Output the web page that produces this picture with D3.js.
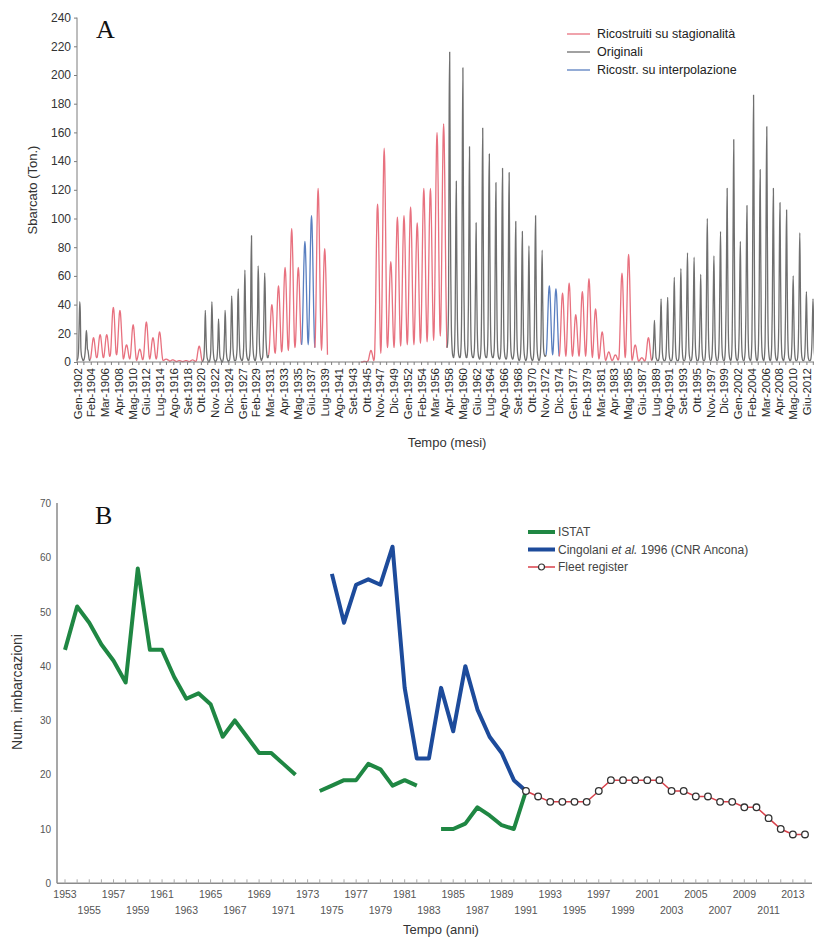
<!DOCTYPE html>
<html>
<head>
<meta charset="utf-8">
<script src="https://cdn.jsdelivr.net/npm/d3@7"></script>
<style>
  html, body { margin: 0; padding: 0; background: #fff; }
  svg { display: block; font-family: "Liberation Sans", Arial, sans-serif; }
</style>
</head>
<body>
<svg id="chart" width="814" height="939"></svg>
<script>
// ---------- Panel A: monthly landings (tonnes), 1902-2013 ----------
const monthNames = ["Gen", "Feb", "Mar", "Apr", "Mag", "Giu", "Lug", "Ago", "Set", "Ott", "Nov", "Dic"];
const firstYearA = 1902;
const lastYearA = 2013;
const landingTicks = [0, 20, 40, 60, 80, 100, 120, 140, 160, 180, 200, 220, 240];

// Original records
const originali1902 = [
  1, 2, 4, 10, 28, 42, 35, 10, 5, 3, 2, 1,
  1, 2, 4, 8, 16, 22, 18, 9, 8, 5, 2, 1
];
// Reconstructed from seasonality
const stagionalita1904 = [
  2, 3, 6, 9.5, 13, 16, 17, 16, 13, 9.5, 6, 3,
  3, 4, 7, 11, 15, 18, 19, 18, 15, 11, 7, 4,
  3, 4, 7, 11, 15, 18, 19, 18, 15, 11, 7, 4,
  4, 6, 12, 21, 30, 36, 38, 36, 30, 21, 12, 6,
  5, 7, 13, 20.5, 28, 34, 36, 34, 28, 20.5, 13, 7,
  2, 2.7, 4.5, 7, 9.5, 11.3, 12, 11.3, 9.5, 7, 4.5, 2.7,
  2, 3.7, 8, 14, 20, 24.3, 26, 24.3, 20, 14, 8, 3.7,
  1, 1.6, 3, 5, 7, 8.4, 9, 8.4, 7, 5, 3, 1.6,
  2, 3.8, 8.5, 15, 21.5, 26.2, 28, 26.2, 21.5, 15, 8.5, 3.8,
  2, 3, 5.8, 9.5, 13.3, 16, 17, 16, 13.3, 9.5, 5.8, 3,
  2, 3.3, 6.8, 11.5, 16.3, 19.7, 21, 19.7, 16.3, 11.5, 6.8, 3.3,
  1, 1.1, 1.3, 1.5, 1.8, 1.9, 2, 1.9, 1.8, 1.5, 1.3, 1.1,
  0.5, 0.6, 0.8, 1, 1.3, 1.4, 1.5, 1.4, 1.3, 1, 0.8, 0.6,
  0.3, 0.35, 0.5, 0.65, 0.8, 0.95, 1, 0.95, 0.8, 0.65, 0.5, 0.35,
  0.3, 0.35, 0.5, 0.6, 0.8, 0.9, 1, 0.9, 0.8, 0.6, 0.5, 0.35,
  0.3, 0.4, 0.6, 0.9, 1.2, 1.4, 1.5, 1.4, 1.2, 0.9, 0.6, 0.4,
  0.5, 1.2, 3.1, 5.8, 8.4, 10.3, 11, 10.3, 8.4, 5.8, 3.1, 1.2
];
const originali1921 = [
  0, 1, 2, 6, 18, 36, 24, 10, 4, 2, 1, 0,
  0, 1, 3, 8, 25, 42, 30, 12, 5, 2, 1, 0,
  0, 1, 2, 6, 15, 30, 22, 8, 3, 2, 1, 0,
  0, 1, 3, 8, 20, 36, 28, 10, 4, 2, 1, 0,
  1, 1, 4, 10, 30, 46, 35, 14, 6, 3, 1, 1,
  1, 2, 5, 12, 42, 51, 30, 14, 6, 3, 2, 1,
  1, 2, 5, 14, 44, 64, 40, 15, 6, 3, 2, 1,
  1, 3, 6, 16, 65, 88, 40, 18, 8, 4, 2, 1,
  1, 3, 6, 20, 35, 67, 55, 20, 8, 4, 2, 1,
  2, 3, 8, 22, 45, 62, 48, 20, 10, 5, 3, 3
];
const stagionalita1931 = [
  5, 7.5, 13.8, 22.5, 31.3, 37.6, 40, 37.6, 31.3, 22.5, 13.8, 7.5,
  6, 9.3, 17.8, 29.5, 41.3, 49.7, 53, 49.7, 41.3, 29.5, 17.8, 9.3,
  7, 11.1, 21.8, 36.5, 51.3, 61.9, 66, 61.9, 51.3, 36.5, 21.8, 11.1,
  8, 14, 29.3, 50.5, 71.8, 87, 93, 87, 71.8, 50.5, 29.3, 14,
  10, 13.9, 24, 38, 52, 62, 66, 62, 52, 38, 24, 13.9
];
// Reconstructed by interpolation
const interpolazione1936 = [
  12, 17, 30, 48, 66, 79, 84, 79, 66, 48, 30, 17,
  12, 18.3, 34.5, 57, 79.5, 95.7, 102, 95.7, 79.5, 57, 34.5, 18.3
];
const stagionalita1938 = [
  10, 17.8, 37.8, 65.5, 93.3, 113.2, 121, 113.2, 93.3, 65.5, 37.8, 17.8,
  8, 13, 25.8, 43.5, 61.3, 74, 79, 74, 61.3, 43.5, 25.8, 5
];
const stagionalita1945 = [
  0, 0, 0, 0, 0.2, 0.4, 0.5, 0.4, 0.3, 0.2, 0.2, 0.3,
  0.5, 1, 2.4, 4.3, 6.1, 7.5, 8, 7.5, 6.1, 4.3, 2.4, 1,
  2, 9, 27, 56, 84, 104, 110, 104, 86, 60, 33, 12,
  6, 16, 41.8, 77.5, 113.3, 139, 149, 139, 113.3, 77.5, 41.8, 16,
  10, 14.2, 25, 40, 55, 65.8, 70, 65.8, 55, 40, 25, 14.2,
  10, 16.4, 32.8, 55.5, 78.3, 94.6, 101, 94.6, 78.3, 55.5, 32.8, 16.4,
  11, 17.4, 33.8, 56.5, 79.3, 95.6, 102, 95.6, 79.3, 56.5, 33.8, 17.4,
  12, 18.7, 36, 60, 84, 101.3, 108, 101.3, 84, 60, 36, 18.7,
  12, 18, 33.3, 54.5, 75.8, 91, 97, 91, 75.8, 54.5, 33.3, 18,
  13, 20.6, 40, 67, 94, 113.4, 121, 113.4, 94, 67, 40, 20.6,
  14, 21.5, 40.8, 67.5, 94.3, 113.5, 121, 113.5, 94.3, 67.5, 40.8, 21.5,
  15, 25.2, 51.3, 87.5, 123.8, 149.9, 160, 149.9, 123.8, 87.5, 51.3, 25.2,
  18, 28.4, 55, 92, 129, 155.6, 166, 155.6, 129, 92, 55, 28.4
];
const originali1958 = [
  10, 12, 20, 45, 175, 216, 120, 60, 25, 12, 6, 4,
  3, 5, 12, 35, 90, 126, 70, 30, 12, 6, 4, 3,
  3, 6, 15, 50, 150, 205, 110, 45, 15, 8, 5, 3,
  3, 5, 12, 40, 100, 150, 85, 35, 12, 6, 4, 3,
  3, 5, 10, 28, 60, 97, 55, 25, 10, 5, 3, 2,
  2, 5, 12, 40, 120, 163, 90, 35, 12, 6, 4, 3,
  3, 5, 12, 38, 115, 145, 80, 32, 12, 6, 4, 3,
  3, 5, 10, 32, 90, 125, 70, 30, 10, 5, 3, 2,
  2, 4, 10, 35, 100, 135, 75, 30, 10, 5, 3, 2,
  2, 4, 10, 35, 95, 132, 70, 28, 10, 5, 3, 2,
  2, 4, 8, 25, 70, 98, 55, 22, 8, 4, 2, 1,
  1, 3, 8, 24, 65, 91, 50, 20, 8, 4, 2, 1,
  1, 3, 7, 20, 55, 81, 45, 18, 6, 3, 2, 1,
  1, 3, 8, 28, 75, 102, 60, 22, 8, 4, 2, 1,
  1, 3, 7, 20, 55, 78, 42, 16, 7, 5, 4, 4
];
const interpolazione1973 = [
  5, 8.4, 17, 29, 41, 49.6, 53, 49.6, 41, 29, 17, 8.4,
  5, 8.2, 16.5, 28, 39.5, 47.8, 51, 47.8, 39.5, 28, 16.5, 8.2
];
const stagionalita1975 = [
  4, 7.1, 15, 26, 37, 44.9, 48, 44.9, 37, 26, 15, 7.1,
  4, 7.6, 16.8, 29.5, 42.3, 51.4, 55, 51.4, 42.3, 29.5, 16.8, 7.6,
  4, 6, 11.3, 18.5, 25.8, 31, 33, 31, 25.8, 18.5, 11.3, 6,
  4, 7.2, 15.3, 26.5, 37.8, 45.9, 49, 45.9, 37.8, 26.5, 15.3, 7.2,
  4, 7.8, 17.5, 31, 44.5, 54.2, 58, 54.2, 44.5, 31, 17.5, 7.8,
  3, 5.4, 11.5, 20, 28.5, 34.6, 37, 34.6, 28.5, 20, 11.5, 5.4,
  2, 3.3, 6.8, 11.5, 16.3, 19.7, 21, 19.7, 16.3, 11.5, 6.8, 3.3,
  1, 1.4, 2.5, 4, 5.5, 6.6, 7, 6.6, 5.5, 4, 2.5, 1.4,
  1, 1.3, 2, 3, 4, 4.7, 5, 4.7, 4, 3, 2, 1.3,
  2, 6.2, 17, 32, 47, 57.8, 62, 57.8, 47, 32, 17, 6.2,
  3, 8, 21, 39, 57, 70, 75, 70, 57, 39, 21, 8,
  1, 1.8, 3.8, 6.5, 9.3, 11.2, 12, 11.2, 9.3, 6.5, 3.8, 1.8,
  0.5, 0.7, 1.1, 1.8, 2.4, 2.8, 3, 2.8, 2.4, 1.8, 1.1, 0.7,
  1, 2.1, 5, 9, 13, 15.9, 17, 15.9, 13, 9, 5, 2.1
];
const originali1989 = [
  1, 2, 4, 10, 20, 29, 18, 8, 3, 2, 1, 1,
  1, 2, 5, 14, 30, 44, 28, 10, 4, 2, 1, 1,
  1, 2, 5, 15, 32, 45, 28, 10, 4, 2, 1, 1,
  1, 2, 6, 18, 40, 59, 35, 14, 5, 2, 1, 1,
  1, 2, 7, 20, 45, 65, 40, 15, 5, 2, 1, 1,
  1, 3, 8, 24, 55, 76, 45, 18, 6, 3, 1, 1,
  1, 3, 8, 22, 50, 73, 42, 16, 6, 3, 1, 1,
  1, 2, 6, 18, 40, 61, 36, 14, 5, 2, 1, 1,
  1, 3, 10, 30, 72, 100, 60, 22, 8, 3, 1, 1,
  1, 3, 8, 22, 52, 74, 45, 18, 6, 3, 1, 1,
  1, 3, 9, 28, 65, 91, 55, 20, 7, 3, 1, 1,
  1, 4, 12, 36, 80, 121, 70, 26, 9, 4, 2, 1,
  1, 4, 14, 45, 105, 155, 90, 32, 10, 4, 2, 1,
  1, 3, 9, 25, 60, 84, 50, 20, 7, 3, 1, 1,
  1, 4, 10, 32, 78, 109, 65, 24, 8, 3, 2, 1,
  1, 5, 16, 55, 130, 186, 105, 38, 12, 5, 2, 1,
  1, 4, 13, 40, 95, 134, 78, 28, 10, 4, 2, 1,
  1, 5, 15, 48, 120, 164, 95, 34, 11, 5, 2, 1,
  1, 4, 12, 36, 88, 121, 70, 26, 9, 4, 2, 1,
  1, 4, 11, 33, 80, 111, 64, 24, 8, 3, 2, 1,
  1, 4, 10, 32, 76, 106, 62, 23, 8, 3, 2, 1,
  1, 2, 6, 18, 42, 60, 36, 14, 5, 2, 1, 1,
  1, 3, 9, 27, 64, 90, 54, 20, 7, 3, 1, 1,
  1, 2, 5, 15, 34, 49, 30, 11, 4, 2, 1, 1,
  1, 2, 5, 13, 30, 44, 27, 10, 4, 2, 1, 1
];

const seriesKindsA = [
  { key: "stag", label: "Ricostruiti su stagionalità", color: "#e8717f" },
  { key: "orig", label: "Originali", color: "#6f6f6f" },
  { key: "interp", label: "Ricostr. su interpolazione", color: "#5a7fc0" }
];

const segmentsA = [
  { kind: "orig", start: 1902, values: originali1902 },
  { kind: "stag", start: 1904, values: stagionalita1904 },
  { kind: "orig", start: 1921, values: originali1921 },
  { kind: "stag", start: 1931, values: stagionalita1931 },
  { kind: "interp", start: 1936, values: interpolazione1936 },
  { kind: "stag", start: 1938, values: stagionalita1938 },
  { kind: "stag", start: 1945, values: stagionalita1945 },
  { kind: "orig", start: 1958, values: originali1958 },
  { kind: "interp", start: 1973, values: interpolazione1973 },
  { kind: "stag", start: 1975, values: stagionalita1975 },
  { kind: "orig", start: 1989, values: originali1989 }
];

// ---------- Panel B: number of vessels per year ----------
const yearsB = d3.range(1953, 2015);
const vesselTicks = [0, 10, 20, 30, 40, 50, 60, 70];
const istatYears = [1953, 1954, 1955, 1956, 1957, 1958, 1959, 1960, 1961, 1962, 1963, 1964, 1965, 1966, 1967, 1968, 1969, 1970, 1971, 1972, 1973,
  1974, 1975, 1976, 1977, 1978, 1979, 1980, 1981, 1982, 1983,
  1984, 1985, 1986, 1987, 1988, 1989, 1990, 1991];
const istatValues = [43, 51, 48, 44, 41, 37, 58, 43, 43, 38, 34, 35, 33, 27, 30, 27, 24, 24, 22, 20, null,
  17, 18, 19, 19, 22, 21, 18, 19, 18, null,
  10, 10, 11, 14, 12.5, 10.7, 10, 17];
const cingolaniYears = [1975, 1976, 1977, 1978, 1979, 1980, 1981, 1982, 1983, 1984, 1985, 1986, 1987, 1988, 1989, 1990, 1991];
const cingolaniValues = [57, 48, 55, 56, 55, 62, 36, 23, 23, 36, 28, 40, 32, 27, 24, 19, 17];
const fleetYears = d3.range(1991, 2015);
const fleetValues = [17, 16, 15, 15, 15, 15, 17, 19, 19, 19, 19, 19, 17, 17, 16, 16, 15, 15, 14, 14, 12, 10, 9, 9];

const svg = d3.select("#chart");
const axisGrey = "#7d7d7d";
const textGrey = "#333";

// ================= Panel A =================
(function drawA() {
  const nMonths = (lastYearA - firstYearA + 1) * 12;
  const x = d3.scaleLinear().domain([0, nMonths]).range([77, 77 + nMonths * 0.5505]);
  const y = d3.scaleLinear().domain([0, 240]).range([362, 17.6]);
  const g = svg.append("g");

  // monthly points for each segment
  const segPts = segmentsA.map(s => s.values.map((v, i) => ({ m: (s.start - firstYearA) * 12 + i, v })));
  // join each segment to the first month of the next one when they are contiguous
  segPts.forEach((pts, i) => {
    const next = segPts[i + 1];
    if (next && next[0].m === pts[pts.length - 1].m + 1) pts.push(next[0]);
  });

  const line = d3.line().x(d => x(d.m)).y(d => y(d.v)).curve(d3.curveMonotoneX);
  const colorOf = k => seriesKindsA.find(s => s.key === k).color;

  g.append("g").selectAll("path").data(segmentsA).join("path")
    .attr("d", (s, i) => line(segPts[i]))
    .attr("fill", "none")
    .attr("stroke", s => colorOf(s.kind))
    .attr("stroke-width", 1.3)
    .attr("stroke-linejoin", "round");

  // y axis
  const yAxis = d3.axisLeft(y).tickValues(landingTicks).tickSize(3).tickPadding(3);
  const ya = g.append("g").attr("transform", "translate(77,0)").call(yAxis);
  ya.select(".domain").attr("stroke", axisGrey).attr("d", "M0,17.6V362");
  ya.selectAll(".tick line").attr("stroke", axisGrey);
  ya.selectAll("text").attr("fill", textGrey).style("font-size", "12px");

  // x axis: labels every 25 months, minor ticks in between
  const labelTicks = d3.range(0, nMonths - 12, 25);
  const xAxis = d3.axisBottom(x).tickValues(labelTicks).tickSize(3)
    .tickFormat(m => monthNames[m % 12] + "-" + (firstYearA + Math.floor(m / 12)));
  const xa = g.append("g").attr("transform", "translate(0,362)").call(xAxis);
  xa.select(".domain").attr("stroke", axisGrey).attr("d", "M77,0H814");
  xa.selectAll(".tick line").attr("stroke", axisGrey);
  xa.selectAll("text")
    .attr("fill", "#2a2a2a")
    .style("font-size", "11.5px")
    .attr("text-anchor", "end")
    .attr("transform", "rotate(-90)")
    .attr("x", -6).attr("y", 0).attr("dy", "0.35em");
  g.append("g").selectAll("line").data(labelTicks.map(m => m + 12.5)).join("line")
    .attr("x1", d => x(d)).attr("x2", d => x(d))
    .attr("y1", 362).attr("y2", 365).attr("stroke", axisGrey);

  // titles
  g.append("text").attr("x", 447).attr("y", 447).attr("text-anchor", "middle")
    .attr("fill", textGrey).style("font-size", "13px").text("Tempo (mesi)");
  g.append("text").attr("transform", "translate(37,190) rotate(-90)").attr("text-anchor", "middle")
    .attr("fill", textGrey).style("font-size", "13px").text("Sbarcato (Ton.)");
  g.append("text").attr("x", 96).attr("y", 38)
    .style("font-family", "'Liberation Serif','DejaVu Serif',serif").style("font-size", "26px")
    .attr("fill", "#111").text("A");

  // legend
  const lg = g.append("g").attr("transform", "translate(567,34)");
  const items = lg.selectAll("g").data(seriesKindsA).join("g")
    .attr("transform", (d, i) => `translate(0,${i * 18})`);
  items.append("line").attr("x1", 0).attr("x2", 23).attr("y1", 0).attr("y2", 0)
    .attr("stroke", d => d.color).attr("stroke-width", 1.3);
  items.append("text").attr("x", 30).attr("y", 0).attr("dy", "0.35em")
    .attr("fill", "#222").style("font-size", "12.5px").text(d => d.label);
})();

// ================= Panel B =================
(function drawB() {
  const x = d3.scaleLinear().domain([1953, 2014]).range([65, 805]);
  const y = d3.scaleLinear().domain([0, 70]).range([883.3, 503.3]);
  const g = svg.append("g");

  // axes
  const yAxis = d3.axisLeft(y).tickValues(vesselTicks).tickSize(0).tickPadding(6);
  const ya = g.append("g").attr("transform", "translate(57,0)").call(yAxis);
  ya.select(".domain").attr("stroke", "#8a8a8a").attr("stroke-width", 1.5).attr("d", "M0,503V883.3");
  ya.selectAll("text").attr("fill", "#555").style("font-size", "10px");

  const xa = g.append("g").attr("transform", "translate(0,883.3)");
  xa.append("line").attr("x1", 57).attr("x2", 812).attr("y1", 0).attr("y2", 0)
    .attr("stroke", "#8a8a8a").attr("stroke-width", 1.5);
  xa.selectAll("line.tk").data(yearsB).join("line").attr("class", "tk")
    .attr("x1", d => x(d)).attr("x2", d => x(d)).attr("y1", 0).attr("y2", -4)
    .attr("stroke", "#aaa");
  const labelYears = yearsB.filter(yr => yr % 2 === 1);
  xa.selectAll("text").data(labelYears).join("text")
    .attr("x", d => x(d)).attr("y", d => ((d - 1953) / 2) % 2 === 0 ? 15 : 31)
    .attr("text-anchor", "middle").attr("fill", "#555").style("font-size", "10.5px")
    .text(d => d);

  // titles
  g.append("text").attr("x", 441).attr("y", 934).attr("text-anchor", "middle")
    .attr("fill", textGrey).style("font-size", "13px").text("Tempo (anni)");
  g.append("text").attr("transform", "translate(22,692) rotate(-90)").attr("text-anchor", "middle")
    .attr("fill", textGrey).style("font-size", "14px").text("Num. imbarcazioni");
  g.append("text").attr("x", 95).attr("y", 524)
    .style("font-family", "'Liberation Serif','DejaVu Serif',serif").style("font-size", "26px")
    .attr("fill", "#111").text("B");

  const line = d3.line().defined(d => d.v != null).x(d => x(d.yr)).y(d => y(d.v));

  const istat = istatYears.map((yr, i) => ({ yr, v: istatValues[i] }));
  const cing = cingolaniYears.map((yr, i) => ({ yr, v: cingolaniValues[i] }));
  const fleet = fleetYears.map((yr, i) => ({ yr, v: fleetValues[i] }));

  g.append("path").attr("d", line(istat)).attr("fill", "none")
    .attr("stroke", "#1f8743").attr("stroke-width", 4).attr("stroke-linejoin", "round");
  g.append("path").attr("d", line(cing)).attr("fill", "none")
    .attr("stroke", "#1d4b9b").attr("stroke-width", 4).attr("stroke-linejoin", "round");
  g.append("path").attr("d", line(fleet)).attr("fill", "none")
    .attr("stroke", "#d8404a").attr("stroke-width", 1.5);
  g.append("g").selectAll("circle").data(fleet).join("circle")
    .attr("cx", d => x(d.yr)).attr("cy", d => y(d.v)).attr("r", 3.3)
    .attr("fill", "#fff").attr("stroke", "#333").attr("stroke-width", 1.3);

  // legend
  const legend = [
    { label: "ISTAT", color: "#1f8743", w: 4, marker: false },
    { label: "Cingolani", italic: "et al.", rest: "1996 (CNR Ancona)", color: "#1d4b9b", w: 4, marker: false },
    { label: "Fleet register", color: "#d8404a", w: 1.5, marker: true }
  ];
  const lg = g.append("g").attr("transform", "translate(528,532)");
  const it = lg.selectAll("g").data(legend).join("g").attr("transform", (d, i) => `translate(0,${i * 17.5})`);
  it.append("line").attr("x1", 0).attr("x2", 27).attr("stroke", d => d.color).attr("stroke-width", d => d.w);
  it.filter(d => d.marker).append("circle").attr("cx", 13.5).attr("cy", 0).attr("r", 3)
    .attr("fill", "#fff").attr("stroke", "#333").attr("stroke-width", 1.2);
  const tx = it.append("text").attr("x", 30).attr("dy", "0.35em").attr("fill", "#444").style("font-size", "12px");
  tx.append("tspan").text(d => d.label);
  tx.filter(d => d.italic).append("tspan").style("font-style", "italic").text(d => " " + d.italic + " ");
  tx.filter(d => d.rest).append("tspan").text(d => d.rest);
})();
</script>
</body>
</html>
